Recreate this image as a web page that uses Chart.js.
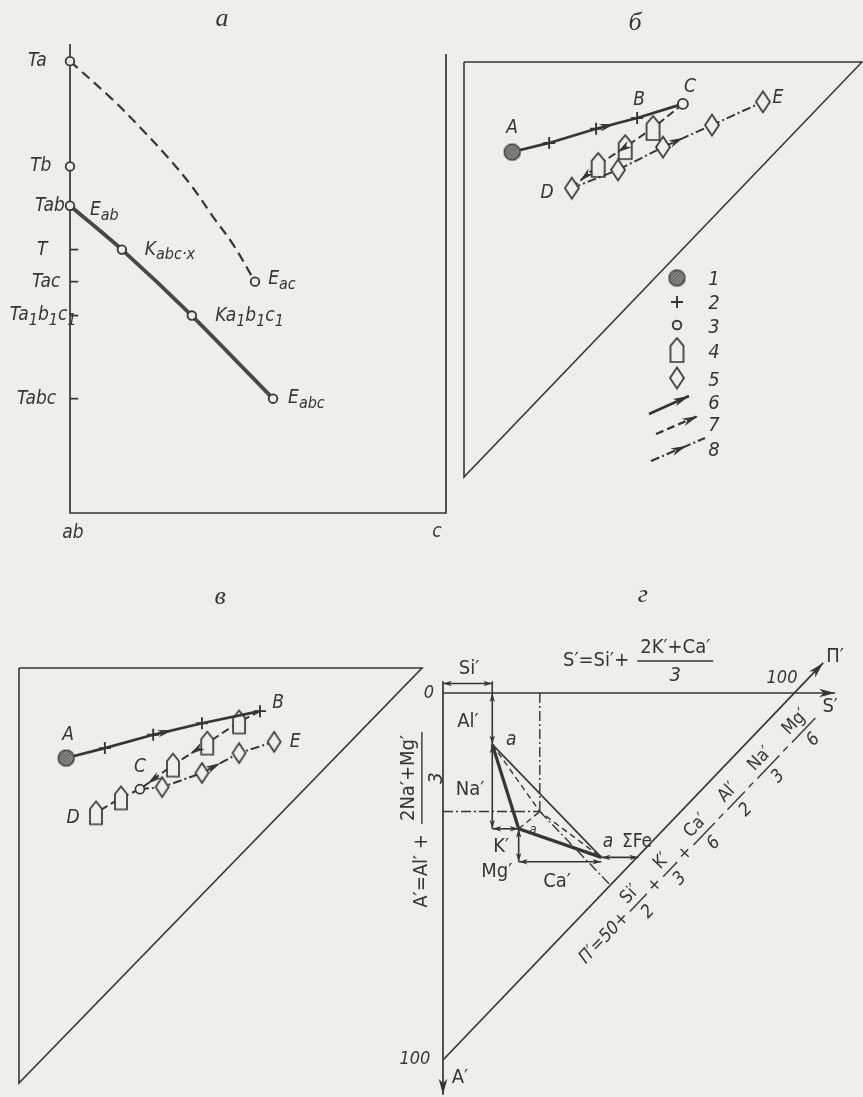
<!DOCTYPE html>
<html lang="ru">
<head>
<meta charset="utf-8">
<title>Диаграммы состояния</title>
<script src="https://cdn.jsdelivr.net/npm/chart.js@4.4.1/dist/chart.umd.min.js"></script>
<style>
html,body{margin:0;padding:0;background:#eeeeec;}
#sheet{position:relative;width:863px;height:1097px;overflow:hidden;background:#eeeeec;}
#sheet canvas{position:absolute;}
</style>
</head>
<body>
<div id="sheet">
<canvas id="panelA" width="470" height="560" style="left:0;top:0;width:470px;height:560px"></canvas>
<canvas id="panelB" width="432" height="560" style="left:431px;top:0;width:432px;height:560px"></canvas>
<canvas id="panelV" width="431" height="537" style="left:0;top:560px;width:431px;height:537px"></canvas>
<canvas id="panelG" width="483" height="537" style="left:380px;top:560px;width:483px;height:537px"></canvas>
</div>
<script>
// ---------- Panel а: temperature along the ab – c join ----------
const tempLevelNames = ['Ta', 'Tb', 'Tab', 'T', 'Tac', 'Ta_1b_1c_1', 'Tabc'];
const tempLevels     = [100, 76.7, 68, 58.3, 51.2, 43.7, 25.3];
const liquidusAcX = [0, 11.2, 18.6, 25.8, 32.4, 38.0, 43.4, 49.2];
const liquidusAcT = [100, 91.6, 85.4, 78.9, 72.3, 65.6, 59.4, 51.2];
const cotecticX   = [0, 13.8, 32.4, 54.0];
const cotecticT   = [68, 58.3, 43.7, 25.3];
const cotecticNames = ['E_{ab}', 'K_{abc·x}', 'Ka_1b_1c_1', 'E_{abc}'];

// ---------- Panel б: trends A → B → C, C → D, D → E ----------
const bSolidX   = [12.1, 21.4, 33.2, 43.5, 55.0];
const bSolidY   = [78.3, 80.5, 83.9, 86.5, 89.9];
const bDashX    = [55.0, 47.5, 40.5, 33.7, 27.1];
const bDashY    = [89.9, 84.1, 79.5, 75.2, 69.6];
const bDashDotX = [27.1, 38.7, 50.0, 62.3, 75.1];
const bDashDotY = [69.6, 74.0, 79.5, 84.8, 90.4];
const legendNames = ['1', '2', '3', '4', '5', '6', '7', '8'];

// ---------- Panel в ----------
const vSolidX   = [11.7, 21.3, 33.3, 45.4, 59.8];
const vSolidY   = [78.3, 80.7, 83.9, 86.7, 89.6];
const vDashX    = [59.8, 54.6, 46.7, 38.2, 30.0, 25.3, 19.1];
const vDashY    = [89.6, 87.0, 81.9, 76.6, 70.8, 68.7, 65.1];
const vDashDotX = [30.0, 35.5, 45.4, 54.6, 63.3];
const vDashDotY = [70.8, 71.3, 74.7, 79.5, 82.2];

// ---------- Panel г: S′ – A′ construction ----------
const gVectorNames = ["Si′", "Al′", "Na′", "K′", "Mg′", "Ca′", "ΣFe"];
const gVecS0 = [0, 14, 14, 14, 21.5, 21.5, 45];
const gVecA0 = [-2.6, 0, 14, 37, 37, 46, 44.8];
const gVecS1 = [14, 14, 14, 21.5, 21.5, 45, 55.5];
const gVecA1 = [-2.6, 14, 37, 37, 46, 46, 44.8];
const gTriS = [14, 21.5, 45];
const gTriA = [14, 37, 44.8];
const gCenterS = 27.5, gCenterA = 32.3;
const gFootS = 47.6, gFootA = 52.4;

// ---------- drawing helpers ----------
const INK = '#363734';
const BG = '#eeeeec';
const NARROW = "'Liberation Sans Narrow','DejaVu Sans Condensed','Arial Narrow','DejaVu Sans',sans-serif";
const SERIF = "'Liberation Serif','DejaVu Serif',serif";
const fnt = (size, italic) => (italic ? 'italic ' : '') + size + 'px ' + NARROW;

function makeHatch(d) {
  const c = document.createElement('canvas'); c.width = c.height = d + 2;
  const g = c.getContext('2d'); const m = (d + 2) / 2, r = d / 2;
  g.save(); g.beginPath(); g.arc(m, m, r, 0, Math.PI * 2); g.fillStyle = '#454643'; g.fill(); g.clip();
  g.strokeStyle = '#b4b5b1'; g.lineWidth = 1.1;
  for (let k = -d; k < d * 2.5; k += 3.3) { g.beginPath(); g.moveTo(k, 0); g.lineTo(k - d - 2, d + 2); g.stroke(); }
  g.restore();
  g.beginPath(); g.arc(m, m, r - 0.6, 0, Math.PI * 2); g.strokeStyle = INK; g.lineWidth = 1.3; g.stroke();
  return c;
}
function makeHouse(w, h) {
  const c = document.createElement('canvas'); c.width = w + 4; c.height = h + 4;
  const g = c.getContext('2d'); const x0 = 2, y0 = 2, roof = h * 0.33;
  g.beginPath(); g.moveTo(x0 + w / 2, y0); g.lineTo(x0 + w, y0 + roof); g.lineTo(x0 + w, y0 + h);
  g.lineTo(x0, y0 + h); g.lineTo(x0, y0 + roof); g.closePath();
  g.fillStyle = BG; g.fill(); g.strokeStyle = INK; g.lineWidth = 1.7; g.stroke();
  return c;
}
function makeDiamond(w, h) {
  const c = document.createElement('canvas'); c.width = w + 4; c.height = h + 4;
  const g = c.getContext('2d'); const x0 = 2, y0 = 2;
  g.beginPath(); g.moveTo(x0 + w / 2, y0); g.lineTo(x0 + w, y0 + h / 2); g.lineTo(x0 + w / 2, y0 + h); g.lineTo(x0, y0 + h / 2); g.closePath();
  g.fillStyle = BG; g.fill(); g.strokeStyle = INK; g.lineWidth = 1.7; g.stroke();
  return c;
}
const hatchImg = makeHatch(17);
const houseImg = makeHouse(13, 24);
const diamondImg = makeDiamond(14, 21);
const houseSmall = makeHouse(12, 23);
const diamondSmall = makeDiamond(13, 20);

function pts(xs, ys) { return xs.map((x, i) => ({ x: x, y: ys[i] })); }
function path(xs, ys, opt) {
  return Object.assign({
    data: pts(xs, ys), showLine: true, fill: false, clip: false, tension: 0,
    borderColor: INK, borderWidth: 1.6, pointRadius: 0, pointHoverRadius: 0,
    pointBorderColor: INK, pointBackgroundColor: BG, pointBorderWidth: 1.7
  }, opt || {});
}

function head(ctx, x, y, ang, len, half) {
  ctx.save(); ctx.translate(x, y); ctx.rotate(ang);
  ctx.beginPath(); ctx.moveTo(0, 0); ctx.lineTo(-len, -half); ctx.lineTo(-len * 0.72, 0); ctx.lineTo(-len, half); ctx.closePath();
  ctx.fillStyle = INK; ctx.fill(); ctx.restore();
}

// arrow heads placed along dataset segments or at line ends
const arrowPlugin = {
  id: 'arrowHeads',
  afterDatasetsDraw(chart) {
    const ctx = chart.ctx;
    chart.data.datasets.forEach((ds, i) => {
      const p = chart.getDatasetMeta(i).data;
      (ds.arrowAt || []).forEach(a => {
        const p0 = p[a.seg], p1 = p[a.seg + 1];
        const x = p0.x + (p1.x - p0.x) * a.t, y = p0.y + (p1.y - p0.y) * a.t;
        head(ctx, x, y, Math.atan2(p1.y - p0.y, p1.x - p0.x), a.len || 15, a.half || 3.8);
      });
      if (ds.arrowEnds) {
        const n = p.length, L = ds.headLen || 10, H = ds.headHalf || 2.8;
        if (ds.arrowEnds === 'end' || ds.arrowEnds === 'both')
          head(ctx, p[n - 1].x, p[n - 1].y, Math.atan2(p[n - 1].y - p[n - 2].y, p[n - 1].x - p[n - 2].x), L, H);
        if (ds.arrowEnds === 'start' || ds.arrowEnds === 'both')
          head(ctx, p[0].x, p[0].y, Math.atan2(p[0].y - p[1].y, p[0].x - p[1].x), L, H);
      }
    });
  }
};

function parseRich(s) {
  const out = []; let i = 0;
  while (i < s.length) {
    if (s[i] === '_') {
      if (s[i + 1] === '{') { const j = s.indexOf('}', i); out.push({ t: s.slice(i + 2, j), sub: true }); i = j + 1; }
      else { out.push({ t: s[i + 1], sub: true }); i += 2; }
    } else { let j = i; while (j < s.length && s[j] !== '_') j++; out.push({ t: s.slice(i, j), sub: false }); i = j; }
  }
  return out;
}
function drawRich(ctx, s, x, y, size, italic, align) {
  const segs = parseRich(s); const sub = Math.round(size * 0.82);
  let w = 0;
  segs.forEach(g => { ctx.font = fnt(g.sub ? sub : size, italic); g.w = ctx.measureText(g.t).width; w += g.w; });
  let cx = align === 'center' ? x - w / 2 : align === 'right' ? x - w : x;
  ctx.textBaseline = 'middle'; ctx.textAlign = 'left';
  segs.forEach(g => { ctx.font = fnt(g.sub ? sub : size, italic); ctx.fillText(g.t, cx, y + (g.sub ? size * 0.3 : 0)); cx += g.w; });
}
function drawFormula(ctx, items, x, y, ang, size, gap) {
  ctx.save(); ctx.translate(x, y); ctx.rotate(ang);
  ctx.fillStyle = INK; ctx.strokeStyle = INK; ctx.lineWidth = 1.4;
  ctx.textBaseline = 'middle'; ctx.textAlign = 'left';
  let cx = 0;
  for (const it of items) {
    if (typeof it === 'string') { ctx.font = fnt(size, false); ctx.fillText(it, cx, 0); cx += ctx.measureText(it).width + gap; }
    else if (it.i) { ctx.font = fnt(size, true); ctx.fillText(it.i, cx, 0); cx += ctx.measureText(it.i).width + gap; }
    else {
      ctx.font = fnt(size, false); const nw = ctx.measureText(it.n).width;
      ctx.font = fnt(size, true); const dw = ctx.measureText(it.d).width;
      const w = Math.max(nw, dw) + 6;
      ctx.beginPath(); ctx.moveTo(cx, 0); ctx.lineTo(cx + w, 0); ctx.stroke();
      ctx.textAlign = 'center';
      ctx.font = fnt(size, false); ctx.fillText(it.n, cx + w / 2, -size * 0.64);
      ctx.font = fnt(size, true); ctx.fillText(it.d, cx + w / 2, size * 0.76);
      ctx.textAlign = 'left';
      cx += w + gap;
    }
  }
  ctx.restore();
}

function notesPlugin(notes, extra) {
  return {
    id: 'notes',
    afterDraw(chart) {
      const ctx = chart.ctx, sx = chart.scales.x, sy = chart.scales.y;
      ctx.save(); ctx.fillStyle = INK; ctx.strokeStyle = INK;
      notes.forEach(n => {
        const px = sx.getPixelForValue(n.x), py = sy.getPixelForValue(n.y);
        if (n.title) {
          ctx.font = 'italic 26px ' + SERIF; ctx.textAlign = 'center'; ctx.textBaseline = 'middle'; ctx.fillText(n.s, px, py);
        } else {
          drawRich(ctx, n.s, px, py, n.size || 19, n.italic !== false, n.align || 'left');
        }
      });
      if (extra) extra(chart, ctx, sx, sy);
      ctx.restore();
    }
  };
}

function makeChart(id, pad, xr, yr, reverseY, datasets, notes, extra) {
  return new Chart(document.getElementById(id), {
    type: 'scatter',
    data: { datasets: datasets },
    options: {
      responsive: false, animation: false, events: [], devicePixelRatio: 1,
      layout: { padding: pad, autoPadding: false },
      plugins: { legend: { display: false }, tooltip: { enabled: false } },
      scales: {
        x: { type: 'linear', display: false, min: xr[0], max: xr[1] },
        y: { type: 'linear', display: false, min: yr[0], max: yr[1], reverse: reverseY }
      }
    },
    plugins: [arrowPlugin, notesPlugin(notes, extra)]
  });
}

// ================= Panel а =================
const openDot = { pointStyle: 'circle', pointBackgroundColor: BG, pointBorderColor: INK, pointBorderWidth: 1.8 };
const aSets = [
  path([0], [tempLevels[1]], Object.assign({ showLine: false, pointRadius: 4.3 }, openDot)),
  path(cotecticX, cotecticT, Object.assign({ borderWidth: 3.8, borderColor: '#484946', tension: 0.25, pointRadius: 4.3 }, openDot)),
  path(liquidusAcX, liquidusAcT, Object.assign({
    borderWidth: 2.2, borderDash: [10, 6], tension: 0.35,
    pointRadius: liquidusAcX.map((_, i) => (i === 0 || i === liquidusAcX.length - 1) ? 4.3 : 0)
  }, openDot)),
  ...tempLevels.slice(3).map(t => path([0, 2.2], [t, t], { borderWidth: 1.7 })),
  path([0, 0, 100, 100], [103.8, 0, 0, 101.6], { borderWidth: 1.7 })
];
const aLabelLeft = [-11.2, -10.6, -9.3, -8.8, -10.1, -16.0, -14.1];
const aNotes = [{ x: 40.4, y: 109.3, s: 'а', title: true }]
  .concat(tempLevelNames.map((s, i) => ({ x: aLabelLeft[i], y: tempLevels[i], s: s })))
  .concat([
    { x: 5.3, y: 67.0, s: cotecticNames[0] },
    { x: 19.9, y: 58.3, s: cotecticNames[1] },
    { x: 52.7, y: 51.7, s: 'E_{ac}' },
    { x: 38.6, y: 43.5, s: cotecticNames[2] },
    { x: 58.0, y: 25.5, s: cotecticNames[3] },
    { x: 0.8, y: -4.4, s: 'ab', align: 'center' },
    { x: 97.6, y: -4.2, s: 'c', align: 'center' }
  ]);
makeChart('panelA', { left: 70, right: 24, top: 44, bottom: 47 }, [0, 100], [0, 103.8], false, aSets, aNotes);

// ================= Panel б =================
function triFrame() { return path([0, 100, 0, 0], [100, 100, 0, 100], { borderWidth: 1.6 }); }
const bSets = [
  path(bSolidX, bSolidY, {
    borderWidth: 2.7,
    pointStyle: [hatchImg, 'cross', 'cross', 'cross', 'circle'],
    pointRadius: [8, 6, 6, 6, 5], pointBorderWidth: 1.9,
    arrowAt: [{ seg: 2, t: 0.45 }]
  }),
  path(bDashDotX, bDashDotY, {
    borderWidth: 2.0, borderDash: [9, 3, 2, 3],
    pointStyle: diamondImg, pointRadius: 6,
    arrowAt: [{ seg: 2, t: 0.42 }]
  }),
  path(bDashX, bDashY, {
    borderWidth: 2.0, borderDash: [8, 4],
    pointStyle: bDashX.map((_, i) => (i === 0 || i === bDashX.length - 1) ? 'circle' : houseImg),
    pointRadius: bDashX.map((_, i) => (i === 0 || i === bDashX.length - 1) ? 0 : 6),
    arrowAt: [{ seg: 2, t: 0.3 }, { seg: 3, t: 0.7 }]
  }),
  triFrame()
];
const bNotes = [
  { x: 43, y: 109.4, s: 'б', title: true },
  { x: 12.1, y: 84.1, s: 'A', align: 'center' },
  { x: 44.0, y: 90.8, s: 'B', align: 'center' },
  { x: 56.8, y: 94.0, s: 'C', align: 'center' },
  { x: 20.9, y: 68.4, s: 'D', align: 'center' },
  { x: 78.9, y: 91.3, s: 'E', align: 'center' }
];
function legendArrow(ctx, x0, y0, x1, y1, dash, lw, t) {
  ctx.save(); ctx.strokeStyle = INK; ctx.lineWidth = lw; ctx.setLineDash(dash);
  ctx.beginPath(); ctx.moveTo(x0, y0); ctx.lineTo(x1, y1); ctx.stroke(); ctx.restore();
  head(ctx, x0 + (x1 - x0) * t, y0 + (y1 - y0) * t, Math.atan2(y1 - y0, x1 - x0), 16, 4);
}
function bLegend(chart, ctx) {
  const sx = 246;
  ctx.drawImage(hatchImg, sx - hatchImg.width / 2, 278 - hatchImg.height / 2);
  ctx.strokeStyle = INK; ctx.lineWidth = 1.9;
  ctx.beginPath(); ctx.moveTo(sx - 6, 302); ctx.lineTo(sx + 6, 302); ctx.moveTo(sx, 296); ctx.lineTo(sx, 308); ctx.stroke();
  ctx.beginPath(); ctx.arc(sx, 325, 4.3, 0, 2 * Math.PI); ctx.fillStyle = BG; ctx.fill(); ctx.stroke();
  ctx.drawImage(houseImg, sx - houseImg.width / 2, 350 - houseImg.height / 2);
  ctx.drawImage(diamondImg, sx - diamondImg.width / 2, 378 - diamondImg.height / 2);
  legendArrow(ctx, 218, 414, 258, 396, [], 2.7, 1.0);
  legendArrow(ctx, 225, 434, 267, 416, [8, 4], 2.3, 1.0);
  legendArrow(ctx, 220, 461, 274, 438, [9, 3, 2, 3], 2.1, 0.66);
  ctx.fillStyle = INK;
  const ly = [280, 304, 328, 353, 381, 404, 426, 451];
  legendNames.forEach((s, i) => drawRich(ctx, s, 283, ly[i], 20, true, 'center'));
}
makeChart('panelB', { left: 33, right: 1, top: 62, bottom: 83 }, [0, 100], [0, 100], false, bSets, bNotes, bLegend);

// ================= Panel в =================
const vSets = [
  path(vSolidX, vSolidY, {
    borderWidth: 2.7,
    pointStyle: [hatchImg, 'cross', 'cross', 'cross', 'cross'],
    pointRadius: [8, 6, 6, 6, 6], pointBorderWidth: 1.9,
    arrowAt: [{ seg: 2, t: 0.4 }]
  }),
  path(vDashX, vDashY, {
    borderWidth: 2.0, borderDash: [8, 4],
    pointStyle: vDashX.map((_, i) => i === 4 ? 'circle' : houseSmall),
    pointRadius: vDashX.map((_, i) => i === 0 ? 0 : (i === 4 ? 4.5 : 6)),
    arrowAt: [{ seg: 2, t: 0.5 }, { seg: 3, t: 0.78 }]
  }),
  path(vDashDotX, vDashDotY, {
    borderWidth: 2.0, borderDash: [9, 3, 2, 3],
    pointStyle: diamondSmall, pointRadius: vDashDotX.map((_, i) => i === 0 ? 0 : 6),
    arrowAt: [{ seg: 2, t: 0.5 }]
  }),
  triFrame()
];
const vNotes = [
  { x: 49.9, y: 117.1, s: 'в', title: true },
  { x: 12.2, y: 83.9, s: 'A', align: 'center' },
  { x: 64.3, y: 91.6, s: 'B', align: 'center' },
  { x: 30.0, y: 76.1, s: 'C', align: 'center' },
  { x: 13.4, y: 63.9, s: 'D', align: 'center' },
  { x: 68.5, y: 82.2, s: 'E', align: 'center' }
];
makeChart('panelV', { left: 19, right: 9, top: 108, bottom: 14 }, [0, 100], [0, 100], false, vSets, vNotes);

// ================= Panel г =================
const gSets = [
  path(gTriS, gTriA, { borderWidth: 3.3 }),
  path([gTriS[0], gTriS[2]], [gTriA[0], gTriA[2]], { borderWidth: 1.6 }),
  path([gTriS[0], gCenterS, gTriS[2]], [gTriA[0], gCenterA, gTriA[2]], { borderWidth: 1.4, borderDash: [6, 4] }),
  path([gTriS[1], gCenterS], [gTriA[1], gCenterA], { borderWidth: 1.4, borderDash: [6, 4] }),
  ...gVectorNames.map((_, i) => path([gVecS0[i], gVecS1[i]], [gVecA0[i], gVecA1[i]], {
    borderWidth: 1.6, arrowEnds: 'both', headLen: 9, headHalf: 2.7
  })),
  path([gVecS1[0], gVecS1[0]], [-3.2, 0], { borderWidth: 1.6 }),
  path([gCenterS, gCenterS], [0, gCenterA], { borderWidth: 1.4, borderDash: [10, 3, 2, 3] }),
  path([0, gCenterS], [gCenterA, gCenterA], { borderWidth: 1.4, borderDash: [10, 3, 2, 3] }),
  path([gCenterS, gFootS], [gCenterA, gFootA], { borderWidth: 1.4, borderDash: [10, 3, 2, 3] }),
  path([0, 111.4], [0, 0], { borderWidth: 1.7, arrowEnds: 'end', headLen: 16, headHalf: 4.3 }),
  path([0, 0], [-3.2, 109.5], { borderWidth: 1.7, arrowEnds: 'end', headLen: 16, headHalf: 4.3 }),
  path([0, 108], [100, -8.2], { borderWidth: 1.7, arrowEnds: 'end', headLen: 16, headHalf: 4.3 })
];
const gNotes = [
  { x: 56.8, y: -26.7, s: 'г', title: true },
  { x: 7.4, y: -6.5, s: gVectorNames[0], italic: false, align: 'center', size: 20 },
  { x: 7.1, y: 7.9, s: gVectorNames[1], italic: false, align: 'center', size: 20 },
  { x: 7.7, y: 26.4, s: gVectorNames[2], italic: false, align: 'center', size: 20 },
  { x: 16.5, y: 42.0, s: gVectorNames[3], italic: false, align: 'center', size: 20 },
  { x: 15.3, y: 48.8, s: gVectorNames[4], italic: false, align: 'center', size: 20 },
  { x: 32.4, y: 51.5, s: gVectorNames[5], italic: false, align: 'center', size: 20 },
  { x: 55.1, y: 40.6, s: gVectorNames[6], italic: false, align: 'center', size: 19 },
  { x: 17.9, y: 12.8, s: 'a', size: 19 },
  { x: 46.9, y: 40.6, s: 'a', align: 'center', size: 19 },
  { x: 25.6, y: 37.1, s: 'a', align: 'center', size: 13 },
  { x: -4.0, y: 0, s: '0', align: 'center', size: 18 },
  { x: 96.3, y: -4.1, s: '100', align: 'center', size: 18 },
  { x: -8.0, y: 99.7, s: '100', align: 'center', size: 18 },
  { x: 110.0, y: 3.8, s: 'S′', italic: false, align: 'center', size: 20 },
  { x: 111.4, y: -9.8, s: 'Π′', italic: false, align: 'center', size: 20 },
  { x: 4.8, y: 104.9, s: 'A′', italic: false, align: 'center', size: 20 }
];
function gFormulas(chart, ctx, sx, sy) {
  drawFormula(ctx, ['S′=Si′+', { n: '2K′+Ca′', d: '3' }], sx.getPixelForValue(34.1), sy.getPixelForValue(-8.7), 0, 20, 8);
  drawFormula(ctx, ['A′=Al′ +', { n: '2Na′+Mg′', d: '3' }], sx.getPixelForValue(-6.0), sy.getPixelForValue(58.5), -Math.PI / 2, 20, 10);
  const ang = Math.atan2(sy.getPixelForValue(0) - sy.getPixelForValue(100), sx.getPixelForValue(100) - sx.getPixelForValue(0));
  drawFormula(ctx, [{ i: 'Π′=50+' }, { n: 'Si′', d: '2' }, '+', { n: 'K′', d: '3' }, '+', { n: 'Ca′', d: '6' }, '–',
    { n: 'Al′', d: '2' }, '–', { n: 'Na′', d: '3' }, '–', { n: 'Mg′', d: '6' }],
    sx.getPixelForValue(39.6), sy.getPixelForValue(73.0), ang, 18, 5);
}
makeChart('panelG', { left: 63, right: 68, top: 133, bottom: 37 }, [0, 100], [0, 100], true, gSets, gNotes, gFormulas);
</script>
</body>
</html>
